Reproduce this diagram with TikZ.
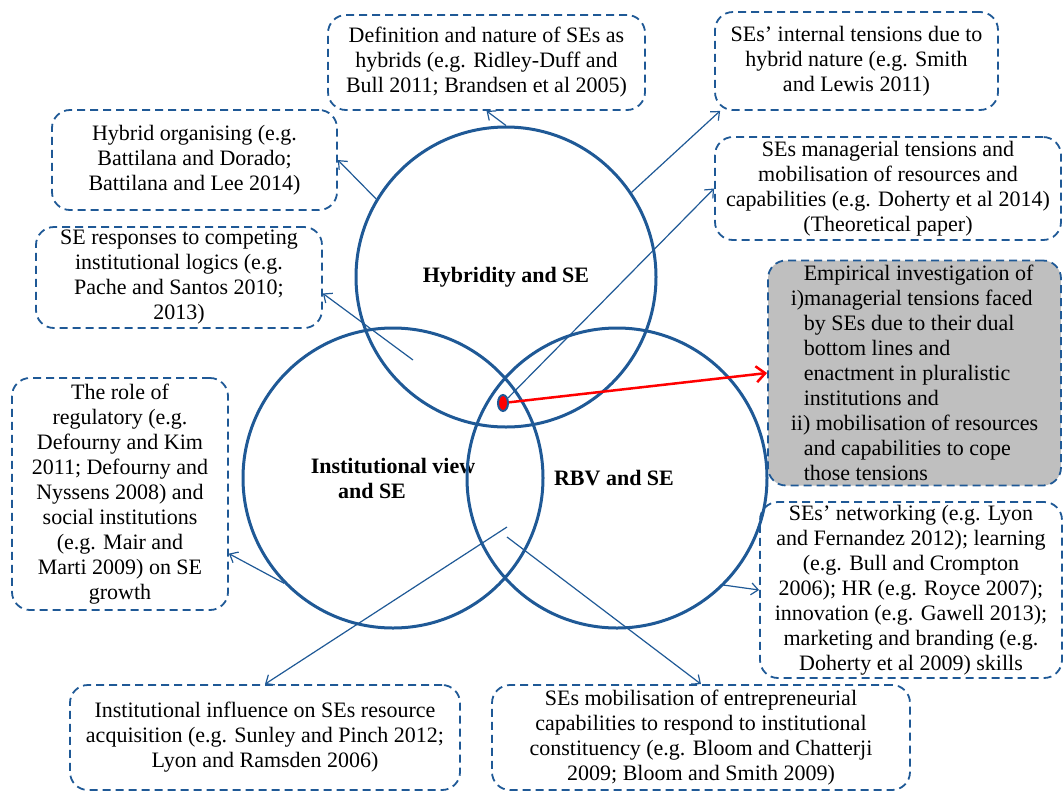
\documentclass[tikz,border=0pt]{standalone}
\usepackage{fontspec}
\setmainfont{Liberation Serif}
\usepackage{tikz}
\usetikzlibrary{arrows.meta,calc,shapes.geometric}

\definecolor{seblue}{RGB}{31,89,150}
\definecolor{segrey}{RGB}{191,191,191}

\tikzset{
  lit/.style={draw=seblue, line width=1.8pt, dash pattern=on 8pt off 5pt,
    rounded corners=18pt, align=center, inner sep=0pt,
    font=\fontsize{22}{25}\selectfont},
  ring/.style={draw=seblue, line width=3pt, circle, minimum size=300pt,
    inner sep=0pt, align=center, font=\fontsize{22}{25}\selectfont\bfseries},
  link/.style={draw=seblue, line width=1.2pt, -{Straight Barb[length=7pt,width=12pt]}},
}

\begin{document}
\begin{tikzpicture}[x=1pt,y=-1pt]
    \useasboundingbox (0,0) rectangle (1063,793);
    % the three streams of literature (y runs downwards, 1 unit = 1px)
    \node[ring] (hyb) at (506,277) {\raisebox{-5pt}{Hybridity and SE}};
    \node[ring] (inst) at (393,478) {Institutional view\\and SE\hspace*{42pt}};
    \node[ring] (rbv) at (617,478) {\hspace*{-6pt}RBV and SE};
    % boxes round the circles
    \node[lit, minimum width=317pt, minimum height=95pt] (defn) at (486.5,62.5)
      {Definition and nature of SEs as\\hybrids (e.g. Ridley-Duff and\\Bull 2011; Brandsen et al 2005)};
    \node[lit, minimum width=283pt, minimum height=98pt] (intn) at (856.5,61)
      {SEs’ internal tensions due to\\hybrid nature (e.g. Smith\\and Lewis 2011)};
    \node[lit, minimum width=346pt, minimum height=103pt] (mgr) at (888,188.5)
      {SEs managerial tensions and\\mobilisation of resources and\\capabilities (e.g. Doherty et al 2014)\\(Theoretical paper)};
    \node[lit, fill=segrey, minimum width=293pt, minimum height=225pt, align=left] (emp) at (914.5,373)
      {\hspace*{13pt}Empirical investigation of\\
       i)managerial tensions faced\\
       \hspace*{13pt}by SEs due to their dual\\
       \hspace*{13pt}bottom lines and\\
       \hspace*{13pt}enactment in pluralistic\\
       \hspace*{13pt}institutions and\\
       ii) mobilisation of resources\\
       \hspace*{13pt}and capabilities to cope\\
       \hspace*{13pt}those tensions};
    \node[lit, minimum width=285pt, minimum height=100pt] (horg) at (194.5,160)
      {Hybrid organising (e.g.\\Battilana and Dorado;\\Battilana and Lee 2014)};
    \node[lit, minimum width=286pt, minimum height=101pt] (resp) at (179,277.5)
      {SE responses to competing\\institutional logics (e.g.\\Pache and Santos 2010;\\2013)};
    \node[lit, minimum width=216pt, minimum height=232pt] (role) at (120,494)
      {The role of\\regulatory (e.g.\\Defourny and Kim\\2011; Defourny and\\Nyssens 2008) and\\social institutions\\(e.g. Mair and\\Marti 2009) on SE\\growth};
    \node[lit, minimum width=302pt, minimum height=176pt] (net) at (911,590)
      {SEs’ networking (e.g. Lyon\\and Fernandez 2012); learning\\(e.g. Bull and Crompton\\2006); HR (e.g. Royce 2007);\\innovation (e.g. Gawell 2013);\\marketing and branding (e.g.\\Doherty et al 2009) skills};
    \node[lit, minimum width=390pt, minimum height=105pt] (infl) at (265,737.5)
      {Institutional influence on SEs resource\\acquisition (e.g. Sunley and Pinch 2012;\\Lyon and Ramsden 2006)};
    \node[lit, minimum width=418pt, minimum height=105pt] (mob) at (701,737.5)
      {SEs mobilisation of entrepreneurial\\capabilities to respond to institutional\\constituency (e.g. Bloom and Chatterji\\2009; Bloom and Smith 2009)};
    % where the three overlap
    \node[ellipse, draw=seblue, fill=red, line width=2pt, minimum width=10pt,
      minimum height=16pt, inner sep=0pt] (dot) at (503,403) {};
    \coordinate (respfoot) at (413,360);
    \coordinate (inflfoot) at (507,527);
    \coordinate (mobfoot) at (507,537);
    \draw[link] (hyb.north) -- (defn.south);
    \draw[link] (hyb.149) -- (horg.east);
    \draw[link] (respfoot) -- ($(resp.east)!.31!(resp.south east)$);
    \draw[link] (hyb.34) -- ($(intn.south west)+(6,0)$);
    \draw[link] (dot) -- (mgr.west);
    \draw[link] (inst.224) -- ($(role.east)!.51!(role.south east)$);
    \draw[link] (rbv.-45) -- (net.west);
    \draw[link] (inflfoot) -- (infl.north);
    \draw[link] (mobfoot) -- (mob.north);
    \draw[red, line width=2.5pt, -{Straight Barb[length=9pt,width=16pt]}] (dot) -- (emp.west);
\end{tikzpicture}
\end{document}
